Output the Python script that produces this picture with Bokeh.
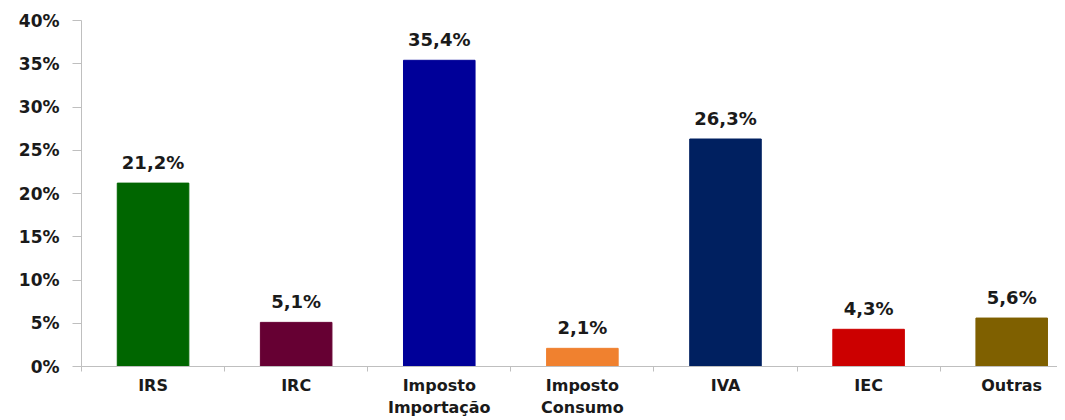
from bokeh.plotting import figure
from bokeh.models import Range1d, FixedTicker, ColumnDataSource
from bokeh.embed import file_html
from bokeh.resources import INLINE
from bokeh.core.properties import value

categories = ["IRS", "IRC", "Imposto\nImportação", "Imposto\nConsumo", "IVA", "IEC", "Outras"]
values = [21.2, 5.1, 35.4, 2.1, 26.3, 4.3, 5.6]
colors = ["#006600", "#660033", "#000099", "#F0812F", "#002060", "#CC0000", "#7F6000"]
y_ticks = [0, 5, 10, 15, 20, 25, 30, 35, 40]

centers = [i + 0.5 for i in range(len(categories))]
labels = [f"{v:.1f}".replace(".", ",") + "%" for v in values]

src = ColumnDataSource(dict(x=centers, top=values, color=colors, label=labels))

FONT = "DejaVu Sans"
TXT = "#1a1a1a"
AX = "#bfbfbf"

p = figure(width=1057, height=420, output_backend="svg", toolbar_location=None,
           x_range=Range1d(0, 6.82), y_range=Range1d(0, 40),
           min_border_left=81, min_border_top=20, min_border_bottom=53, min_border_right=0)
p.outline_line_color = None
p.xgrid.visible = False
p.ygrid.visible = False

p.vbar(x="x", top="top", width=0.5, source=src, fill_color="color", line_color="color")
p.text(x="x", y="top", text="label", source=src, y_offset=-10,
       text_align="center", text_baseline="bottom",
       text_font=value(FONT), text_font_style="bold", text_font_size="18px", text_color=TXT)

# x axis
xa = p.xaxis[0]
xa.ticker = FixedTicker(ticks=centers, minor_ticks=list(range(len(categories) + 1)))
xa.major_label_overrides = {c: lab for c, lab in zip(centers, categories)}
xa.major_tick_out = 0
xa.major_tick_in = 0
xa.minor_tick_out = 5
xa.minor_tick_in = 0
xa.minor_tick_line_color = AX
xa.axis_line_color = AX
xa.major_label_standoff = 4
xa.major_label_text_font = FONT
xa.major_label_text_font_style = "bold"
xa.major_label_text_font_size = "16px"
xa.major_label_text_color = TXT

# y axis
ya = p.yaxis[0]
ya.ticker = FixedTicker(ticks=y_ticks, minor_ticks=[])
ya.major_label_overrides = {t: f"{t}%" for t in y_ticks}
ya.major_tick_out = 9
ya.major_tick_in = 0
ya.major_tick_line_color = AX
ya.axis_line_color = AX
ya.major_label_standoff = 13
ya.major_label_text_font = FONT
ya.major_label_text_font_style = "bold"
ya.major_label_text_font_size = "17px"
ya.major_label_text_color = TXT

open("out.html", "w").write(file_html(p, INLINE))
